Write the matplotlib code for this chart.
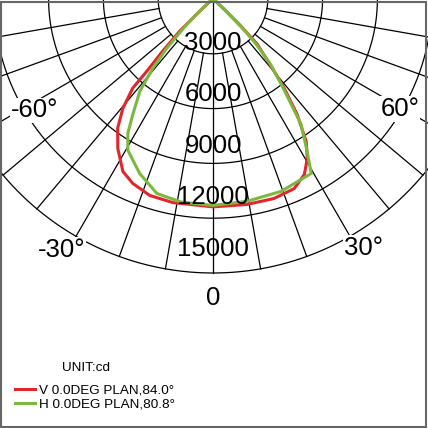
import numpy as np
import matplotlib
matplotlib.use('Agg')
import matplotlib.pyplot as plt
from matplotlib.patches import Rectangle

plt.rcParams['font.family'] = ['Liberation Sans', 'DejaVu Sans']

# intensity rings (cd) and angle grid (deg)
rings = [3000, 6000, 9000, 12000, 15000]
spokes = [-80, -70, -60, -50, -40, -30, -20, -10, 10, 20, 30, 40, 50, 60, 70, 80]
angle_labels = ['-60°', '60°', '-30°', '30°', '0']

# V plane, 0.0 deg (red)
v_ang = [-90, -60, -50, -47.5, -46, -44, -42.5, -42, -39.5, -36.4, -32.5, -27.6,
         -23.5, -17.8, -11.1, 0, 9.4, 17, 23.2, 27.5, 30.6, 33.2, 36.1, 38.6,
         41, 44.4, 46, 47.5, 50, 60, 90]
v_cd = [0, 50, 250, 1000, 2500, 3960, 5360, 6570, 7760, 8800, 9700, 10650,
        11010, 11300, 11360, 11380, 11400, 11420, 11290, 10830, 10140, 9320, 7820, 6240,
        4800, 3450, 2000, 800, 250, 50, 0]

# H plane, 0.0 deg (green)
h_ang = [-90, -60, -50, -47.5, -46, -43.2, -41, -38.4, -34.8, -32.4, -29.4, -22.8,
         -16.1, -9, 0, 9.6, 19.5, 29.4, 31.7, 35.1, 38.7, 41.5, 43.5, 45, 47, 50, 60, 90]
h_cd = [0, 50, 430, 1000, 1980, 3690, 5020, 6450, 7690, 8700, 9500, 10360,
        11080, 11250, 11300, 11230, 11170, 10960, 9810, 8390, 5980, 4700, 3500, 2500, 1000, 300, 50, 0]

W, H = 428, 428
fig = plt.figure(figsize=(W / 100, H / 100), dpi=100)

# polar axes: centre near the top edge, 15000 cd -> 274 px
cx, cy = 213, H + 1
RMAX = 17000
rpx = 274 * RMAX / 15000
ax = fig.add_axes([(cx - rpx) / W, (cy - rpx) / H, 2 * rpx / W, 2 * rpx / H],
                  projection='polar')
ax.set_theta_zero_location('S')
ax.set_ylim(0, RMAX)
ax.axis('off')

gc = 'black'
glw = 0.9
arc = np.radians(np.linspace(-90, 90, 361))
for r in rings:
    ax.plot(arc, np.full(arc.shape, r), color=gc, lw=glw, zorder=1)
for a in spokes:
    ax.plot([np.radians(a)] * 2, [rings[0], rings[-1]], color=gc, lw=glw, zorder=1)
ax.plot([0, 0], [0, rings[-1]], color=gc, lw=glw, zorder=1)

ax.plot(np.radians(v_ang), v_cd, color='#e3262b', lw=2.2, zorder=3,
        label='V 0.0DEG PLAN,84.0°')
ax.plot(np.radians(h_ang), h_cd, color='#7cb83e', lw=2.2, zorder=4,
        label='H 0.0DEG PLAN,80.8°')

# ring value labels, sitting just inside each ring
for r in rings:
    ax.text(0, 0.94 * r - 420, str(r), ha='center', va='center',
            fontsize=18.5, color='black', zorder=5)

# angle labels
px2cd = 15000 / 274
lab_pos = [(-58, 210), (59.5, 217), (-31.2, 293), (31.1, 291), (0, 299)]
for txt, (a, rp) in zip(angle_labels, lab_pos):
    ax.text(np.radians(a), rp * px2cd, txt, ha='center', va='center',
            fontsize=18.5, color='black', zorder=6,
            bbox=dict(facecolor='white', edgecolor='none', pad=0.6))

fig.text(86 / W, (H - 368) / H, 'UNIT:cd', ha='center', va='center', fontsize=9.7)
fig.legend(loc='upper left', bbox_to_anchor=(15 / W, (H - 384) / H),
           fontsize=9.7, frameon=False,
           handlelength=1.45, handletextpad=0.3, labelspacing=0.12,
           borderpad=0, borderaxespad=0)

fig.patches.append(Rectangle((0.5 / W, 1.5 / H), 425.5 / W, 425 / H,
                             transform=fig.transFigure, fill=False,
                             edgecolor='#666666', lw=1.5))

fig.savefig('out.png', dpi=100)
